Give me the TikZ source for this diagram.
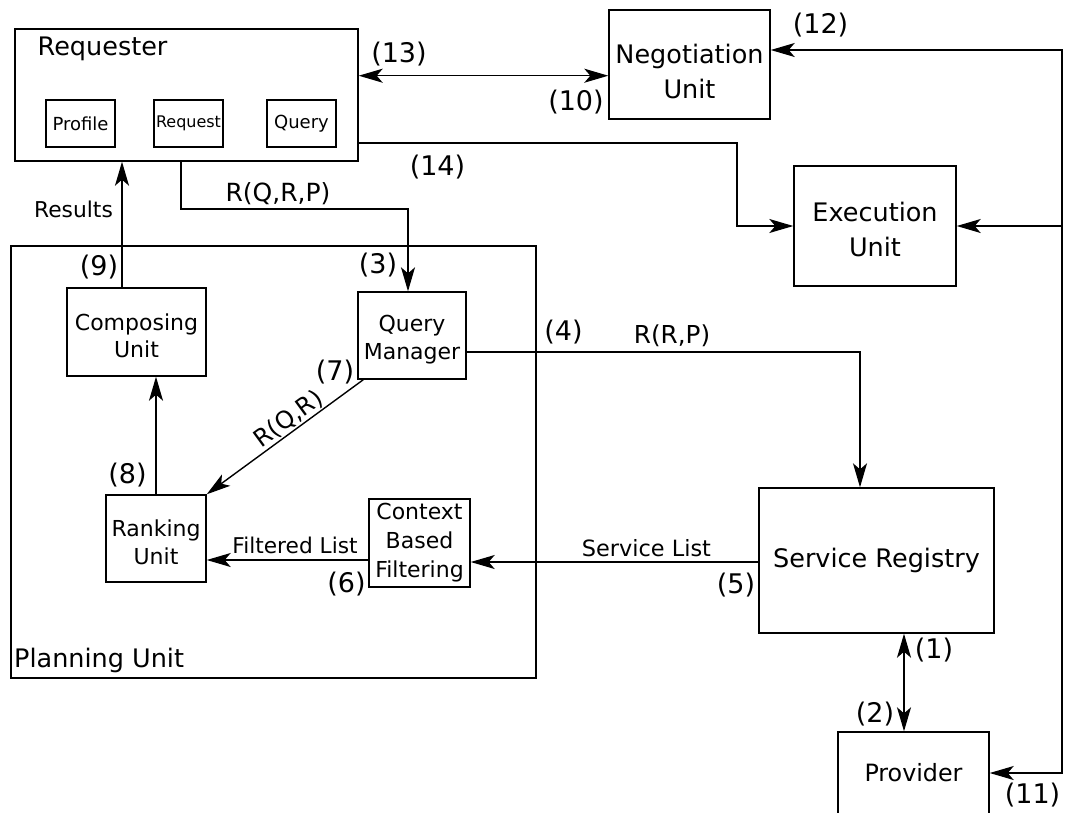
\documentclass[tikz,border=0pt]{standalone}
\usepackage{fontspec}
\setmainfont{DejaVu Sans}
\usetikzlibrary{arrows.meta}
\begin{document}
\begin{tikzpicture}[x=1pt,y=-1pt,
  box/.style={draw, line width=1.4pt, inner sep=0pt, align=center},
  boxtext/.style={inner sep=0pt, align=center},
  bigtext/.style={font=\fontsize{25.5}{35}\selectfont},
  midtext/.style={font=\fontsize{22}{27.5}\selectfont},
  smalltext/.style={font=\fontsize{18}{22}\selectfont},
  num/.style={font=\fontsize{27}{30}\selectfont, anchor=base, inner sep=0pt},
  tag/.style={anchor=base, inner sep=0pt},
  tip/.tip={Stealth[length=24pt,width=14pt,inset=6pt]},
  conn/.style={line width=1.4pt, -tip},
  both/.style={line width=1.4pt, tip-tip},
]
\useasboundingbox (0,0) rectangle (1065,812);
\fill[white] (0,0) rectangle (1065,812);
\clip (0,0) rectangle (1065,812);

% requester with its three parts
\node[box, minimum width=343pt, minimum height=132pt] (req) at (186.5,95) {};
\node[bigtext, anchor=base west, inner sep=0pt] (reqtitle) at (37.5,55) {Requester};
\node[box, smalltext, minimum width=69pt, minimum height=47pt] (profile) at (80.5,123.5) {Profile};
\node[box, font=\fontsize{16}{20}\selectfont, minimum width=69pt, minimum height=47pt] (request) at (188.5,123.5) {Request};
\node[box, smalltext, minimum width=69pt, minimum height=47pt] (query) at (301.5,123.5) {Query};

% units on the right
\node[box, minimum width=161pt, minimum height=109pt] (neg) at (689.5,64.5) {};
\node[boxtext, bigtext] (negtxt) at ([yshift=-7pt]neg.center) {Negotiation\\Unit};
\node[box, minimum width=162pt, minimum height=120pt] (exec) at (875,226) {};
\node[boxtext, bigtext] (exectxt) at ([yshift=-3pt]exec.center) {Execution\\Unit};
\node[box, bigtext, minimum width=235pt, minimum height=145pt] (sr) at (876.5,560.5) {Service Registry};
\node[box, font=\fontsize{23.8}{30}\selectfont, minimum width=151pt, minimum height=82pt] (prov) at (913.5,773) {Provider};

% planning unit and its components
\node[box, minimum width=525pt, minimum height=432pt] (plan) at (273.5,462) {};
\node[bigtext, anchor=base west, inner sep=0pt] (plantitle) at (14,667) {Planning Unit};
\node[box, minimum width=139pt, minimum height=88pt] (comp) at (136.5,332) {};
\node[boxtext, midtext] (comptxt) at ([yshift=-4pt]comp.center) {Composing\\Unit};
\node[box, minimum width=108pt, minimum height=87pt] (qm) at (412,335.5) {};
\node[boxtext, midtext] (qmtxt) at ([yshift=-4pt]qm.center) {Query\\Manager};
\node[box, minimum width=100pt, minimum height=87pt] (rank) at (156,538.5) {};
\node[boxtext, midtext] (ranktxt) at ([yshift=-4pt]rank.center) {Ranking\\Unit};
\node[box, font=\fontsize{22}{29}\selectfont, minimum width=101pt, minimum height=88pt] (cbf) at (419.5,543) {Context\\Based\\Filtering};

% bend points
\coordinate (rqp) at (408,209);
\coordinate (rrp) at (860,352);
\coordinate (svl) at (0,562);
\coordinate (fl) at (0,560);
\coordinate (rn) at (0,75.7);
\coordinate (re) at (737,143);
\coordinate (rt) at (1062,50);
\coordinate (rb) at (1062,773);

% connectors
\draw[conn] ([xshift=-7.5pt]request.south |- req.south) |- (rqp) -- (rqp |- qm.north);
\draw[conn] (qm.east |- rrp) -- (rrp) -- (rrp |- sr.north);
\draw[conn] (sr.west |- svl) -- (cbf.east |- svl);
\draw[conn] (cbf.west |- fl) -- (rank.east |- fl);
\draw[conn] ([xshift=6pt]qm.south west) -- (rank.north east)
  node[pos=0.43, sloped, above, font=\fontsize{24}{28}\selectfont, inner sep=1pt] (rqr) {R(Q,R)};
\draw[conn] (rank.north) -- (rank.north |- comp.south);
\draw[conn] ([xshift=-14.5pt]comp.north) -- ([xshift=-14.5pt]comp.north |- req.south);
\draw[both] (req.east |- rn) -- (neg.west |- rn);
\draw[conn] (req.east |- re) -- (re) |- (exec.west);
\draw[both] (neg.east |- rt) -- (rt) -- (rb) -- (prov.east |- rb);
\draw[conn] (rt |- exec.east) -- (exec.east);
\draw[both] ([xshift=27.5pt]sr.south) -- ([xshift=27.5pt]sr.south |- prov.north);

% connector labels
\node[tag, font=\fontsize{25}{30}\selectfont] (lrqp) at (278,201) {R(Q,R,P)};
\node[tag, font=\fontsize{21.8}{26}\selectfont] (lres) at (73.5,217) {Results};
\node[tag, font=\fontsize{24.7}{30}\selectfont] (lrrp) at (672,343) {R(R,P)};
\node[tag, font=\fontsize{22.4}{26}\selectfont] (lsvl) at (646.5,556) {Service List};
\node[tag, font=\fontsize{21.7}{26}\selectfont] (lfl) at (295,553) {Filtered List};

% step numbers
\node[num] (n1) at (934,658) {(1)};
\node[num] (n2) at (875,722) {(2)};
\node[num] (n3) at (378,273) {(3)};
\node[num] (n4) at (563.5,340) {(4)};
\node[num] (n5) at (736,593) {(5)};
\node[num] (n6) at (346.5,592) {(6)};
\node[num] (n7) at (335,380) {(7)};
\node[num] (n8) at (127.5,483) {(8)};
\node[num] (n9) at (99,275) {(9)};
\node[num] (n10) at (576,110) {(10)};
\node[num] (n11) at (1032.5,803) {(11)};
\node[num] (n12) at (820.5,33) {(12)};
\node[num] (n13) at (399,62) {(13)};
\node[num] (n14) at (437.5,175) {(14)};
\end{tikzpicture}
\end{document}
